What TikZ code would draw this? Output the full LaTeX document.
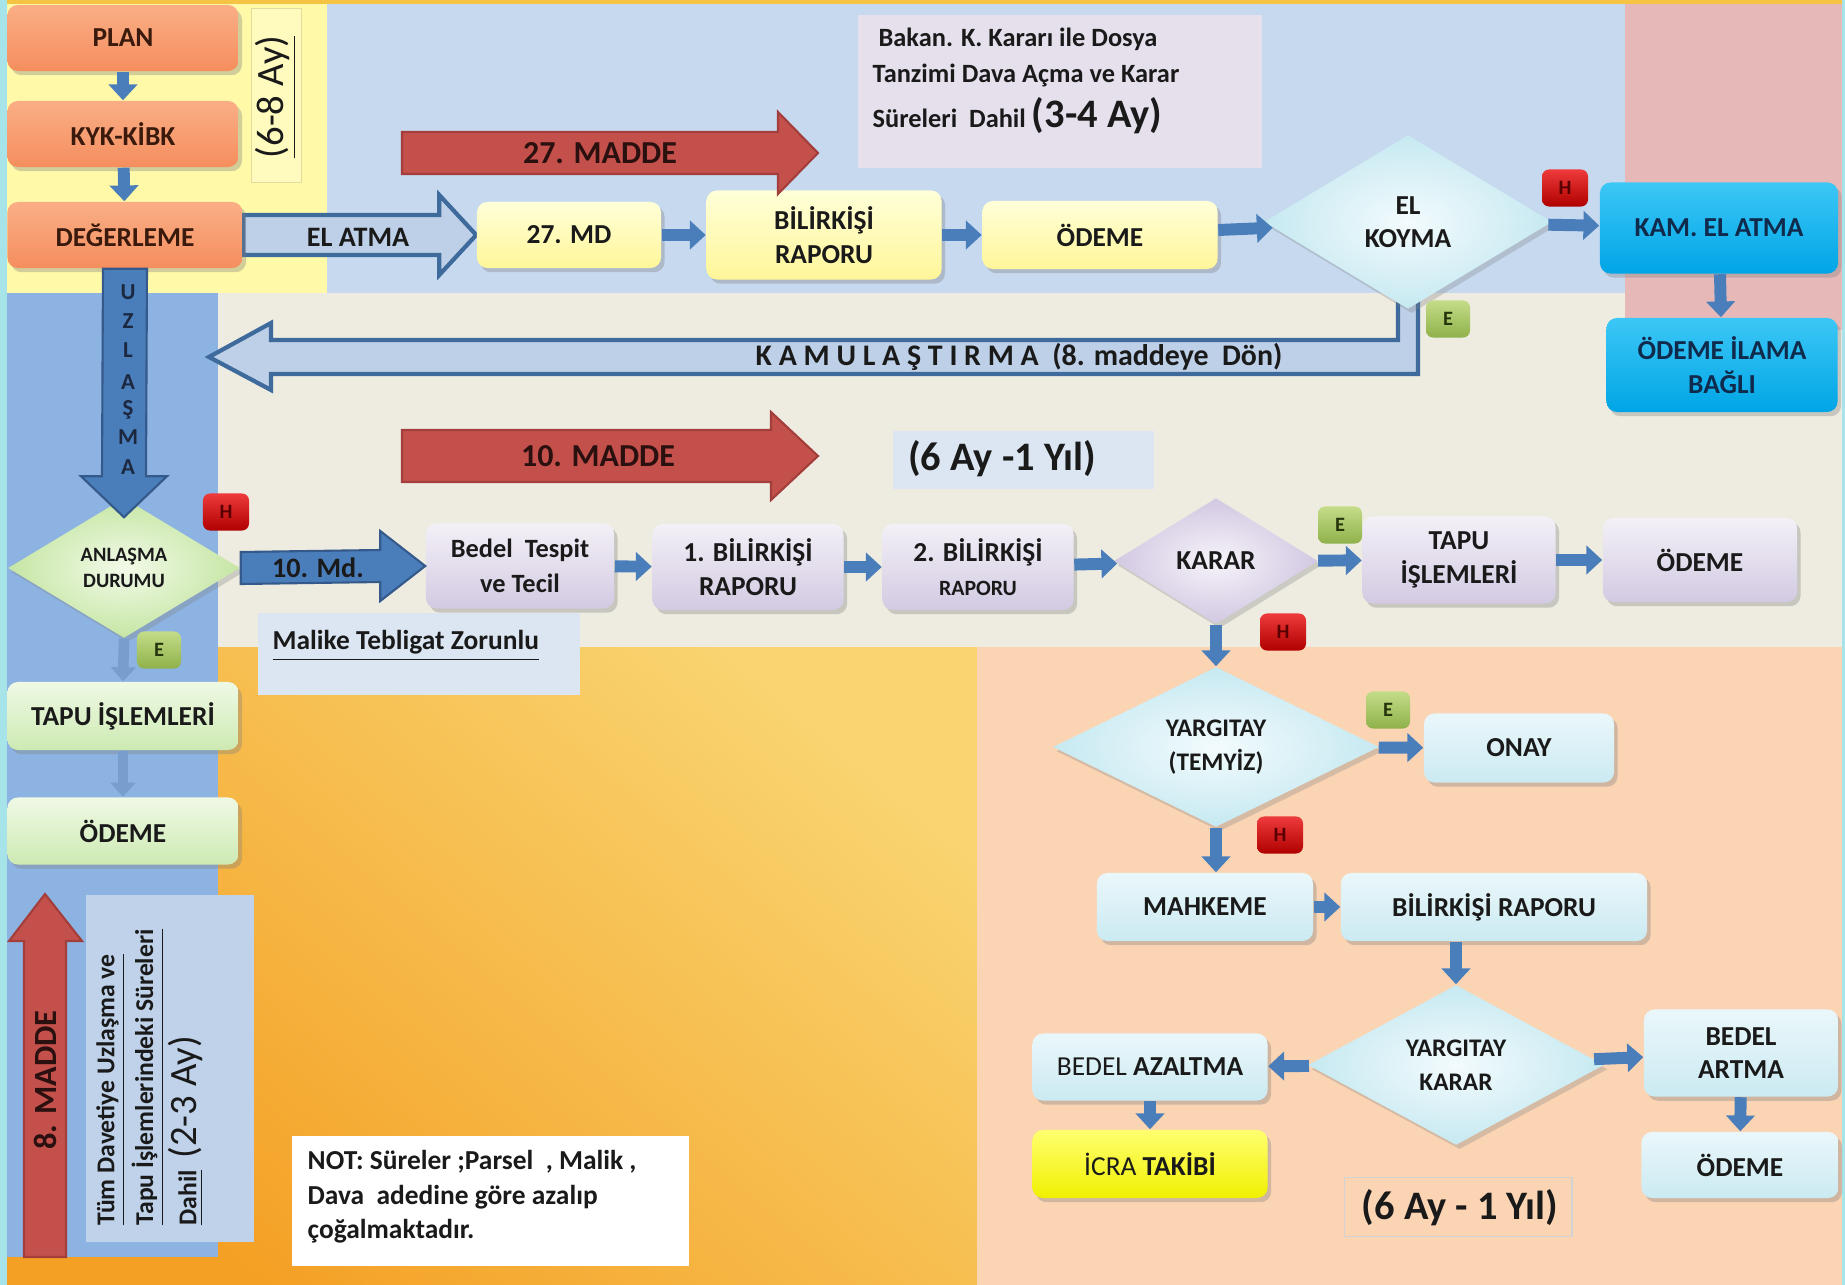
\documentclass[tikz,border=0pt]{standalone}
\usepackage{fontspec}
\setmainfont{Carlito}
\usetikzlibrary{shapes.geometric,arrows.meta,calc,shadows}
\newcommand\fsz[2]{\fontsize{#1}{#2}\selectfont}
% colours
\definecolor{txt}{HTML}{1A1A1A}
\definecolor{edgecyan}{HTML}{A6E4EA}
\definecolor{bgyellow}{HTML}{FFF9A8}
\definecolor{bglblue}{HTML}{C6D9EF}
\definecolor{bgpink}{HTML}{E6B9B8}
\definecolor{bgbeige}{HTML}{EEECE1}
\definecolor{bgblue}{HTML}{8DB3E2}
\definecolor{bgpeach}{HTML}{FBD4B4}
\definecolor{orlight}{HTML}{F9D470}
\definecolor{ordark}{HTML}{F4A024}
\definecolor{topstrip}{HTML}{F6C445}
\definecolor{obtop}{HTML}{FAAE86}
\definecolor{obbot}{HTML}{F58E5E}
\definecolor{obtxt}{HTML}{3A1A0C}
\definecolor{ybtop}{HTML}{FFFFD8}
\definecolor{ybbot}{HTML}{FFF699}
\definecolor{lbtop}{HTML}{F3F0F7}
\definecolor{lbbot}{HTML}{D3CAE2}
\definecolor{cbtop}{HTML}{EAF7FA}
\definecolor{cbbot}{HTML}{CBEAF2}
\definecolor{gbtop}{HTML}{EFF9E5}
\definecolor{gbbot}{HTML}{CDEAB2}
\definecolor{kbtop}{HTML}{3CC7F6}
\definecolor{kbbot}{HTML}{00A5E6}
\definecolor{kbtxt}{HTML}{102A4C}
\definecolor{hbtop}{HTML}{EE3A3A}
\definecolor{hbbot}{HTML}{B00000}
\definecolor{hbtxt}{HTML}{5A0000}
\definecolor{ebtop}{HTML}{C4DC88}
\definecolor{ebbot}{HTML}{8FB14A}
\definecolor{ebtxt}{HTML}{26360C}
\definecolor{flowblue}{HTML}{4A7EBB}
\definecolor{flowdark}{HTML}{34598A}
\definecolor{hollowfill}{HTML}{BDD0E8}
\definecolor{hollowdraw}{HTML}{3E6A9C}
\definecolor{redarr}{HTML}{C4504C}
\definecolor{redarrd}{HTML}{A33E3B}
\definecolor{redtxt}{HTML}{2B1010}
\definecolor{notefill}{HTML}{DCE6F2}
\definecolor{bakfill}{HTML}{E6E0EC}
\definecolor{tumfill}{HTML}{BFD2EA}
\definecolor{uznavy}{HTML}{1C2740}
\definecolor{ayfill}{HTML}{FFFBBE}
\definecolor{aydraw}{HTML}{E2DC9A}
\definecolor{cyin}{HTML}{F3FBFD}
\definecolor{cyout}{HTML}{C6E9F1}
\definecolor{grin}{HTML}{F2FAE8}
\definecolor{grout}{HTML}{C6E6A4}
\definecolor{lvin}{HTML}{F6F3F9}
\definecolor{lvout}{HTML}{D2C8E2}
\definecolor{icratop}{HTML}{FFFF70}
\definecolor{icrabot}{HTML}{F0F000}
\pgfdeclarelayer{bg}
\pgfdeclarelayer{mid}
\pgfsetlayers{bg,mid,main}

\begin{document}
\begin{tikzpicture}[x=0.01cm,y=-0.01cm,
  every node/.style={text=txt},
  procbox/.style={rectangle,rounded corners=3pt,inner sep=1pt,align=center,
    font=\bfseries\fsz{7.8}{9.5},
    drop shadow={opacity=0.35,shadow xshift=1pt,shadow yshift=-1.2pt}},
  obox/.style={procbox,top color=obtop,bottom color=obbot,text=obtxt},
  ybox/.style={procbox,top color=ybtop,bottom color=ybbot},
  lbox/.style={procbox,top color=lbtop,bottom color=lbbot},
  cbox/.style={procbox,top color=cbtop,bottom color=cbbot},
  gbox/.style={procbox,top color=gbtop,bottom color=gbbot},
  kbox/.style={procbox,top color=kbtop,bottom color=kbbot,text=kbtxt},
  decision/.style={diamond,aspect=1.8,inner sep=0pt,align=center,
    font=\bfseries\fsz{7.8}{9.5},
    drop shadow={opacity=0.3,shadow xshift=1pt,shadow yshift=-1.2pt}},
  hbadge/.style={rectangle,rounded corners=2pt,minimum width=0.46cm,minimum height=0.37cm,
    inner sep=0pt,top color=hbtop,bottom color=hbbot,text=hbtxt,font=\bfseries\fsz{5.8}{6}},
  ebadge/.style={rectangle,rounded corners=2pt,minimum width=0.44cm,minimum height=0.37cm,
    inner sep=0pt,top color=ebtop,bottom color=ebbot,text=ebtxt,font=\bfseries\fsz{5.8}{6}},
  flowarr/.style={draw=flowblue,line width=3.4pt,-{Triangle[width=8pt,length=4.5pt]}},
  flowlight/.style={draw=flowblue!75,line width=3pt,-{Triangle[width=7pt,length=4pt]}},
  redarrow/.style={fill=redarr,draw=redarrd,line width=0.6pt},
  blockarrow/.style={fill=flowblue,draw=flowdark,line width=0.6pt},
  hollowarrow/.style={fill=hollowfill,draw=hollowdraw,line width=1.2pt},
  notebox/.style={rectangle,inner sep=0pt,anchor=north west}
]
% background bands
\begin{pgfonlayer}{bg}
\fill[edgecyan] (0,0) rectangle (1845,1285);
\shade[top color=orlight,bottom color=ordark,shading angle=-40] (7,647) rectangle (977,1285);
\fill[bgyellow] (7,0) rectangle (327,293);
\fill[bglblue] (327,0) rectangle (1625,293);
\fill[bgbeige] (218,293) rectangle (1842,647);
\fill[bgpink] (1625,0) rectangle (1842,330);
\fill[bgblue] (7,293) rectangle (218,1257);
\fill[bgpeach] (977,647) rectangle (1842,1285);
\fill[topstrip] (7,0) rectangle (1842,4);
\end{pgfonlayer}

% notes
\node[notebox,fill=ayfill,draw=aydraw,line width=0.3pt,minimum width=0.5cm,minimum height=1.74cm] (box68) at (251,8) {};
\node[rotate=90,font=\fsz{11}{13}] (sure68) at (276,97) {\underline{(6-8 Ay)}};
\node[notebox,fill=bakfill,minimum width=4.04cm,minimum height=1.53cm] (bakbox) at (857,14) {};
\node[anchor=north west,inner sep=0pt,align=left,font=\bfseries\fsz{7.5}{10.3}] (baktxt) at (872,27)
  {~Bakan. K. Kararı ile Dosya\\Tanzimi Dava Açma ve Karar\\[2.5pt]Süreleri~ Dahil {\fsz{11.5}{12}(3-4 Ay)}};
\node[notebox,fill=notefill,minimum width=3.22cm,minimum height=0.82cm] (malbox) at (257,612) {};
\node[anchor=north west,inner sep=0pt,font=\bfseries\fsz{7.8}{9}] (maltxt) at (272,630) {\underline{Malike Tebligat Zorunlu}};
\node[notebox,fill=notefill,minimum width=2.61cm,minimum height=0.58cm] (box61) at (892,430) {};
\node[font=\bfseries\fsz{11.5}{13}] (sure61) at (1002,459) {(6 Ay -1 Yıl)};
\node[notebox,draw=gray!35,line width=0.4pt,minimum width=2.27cm,minimum height=0.59cm] (box62) at (1344,1177) {};
\node[font=\bfseries\fsz{11.5}{13}] (sure62) at (1460,1208) {(6 Ay - 1 Yıl)};
\node[notebox,fill=tumfill,minimum width=1.68cm,minimum height=3.47cm] (tumbox) at (85,894) {};
\node[rotate=90,anchor=west,align=left,inner sep=0pt,font=\bfseries\fsz{7.3}{11}] (tumtxt) at (150,1226)
  {\underline{Tüm Davetiye Uzlaşma ve}\\\underline{Tapu İşlemlerindeki Süreleri}\\\underline{Dahil}~ {\mdseries\fsz{11}{11}(2-3 Ay)}};
\node[notebox,fill=white,minimum width=3.97cm,minimum height=1.30cm] (notbox) at (291,1135) {};
\node[anchor=north west,inner sep=0pt,align=left,font=\bfseries\fsz{7.8}{9.8}] (nottxt) at (307,1150)
  {NOT: Süreler ;Parsel~~, Malik ,\\Dava~~adedine göre azalıp\\çoğalmaktadır.};

% process boxes
\node[obox,minimum width=2.31cm,minimum height=0.66cm] (plan) at (123,38) {PLAN};
\node[obox,minimum width=2.31cm,minimum height=0.66cm] (kyk) at (123,134) {KYK-KİBK};
\node[obox,minimum width=2.35cm,minimum height=0.66cm] (deg) at (125,235) {DEĞERLEME};
\node[ybox,minimum width=1.84cm,minimum height=0.66cm] (md27) at (569,235) {27. MD};
\node[ybox,minimum width=2.35cm,minimum height=0.89cm] (bil1) at (824,235) {BİLİRKİŞİ\\RAPORU};
\node[ybox,minimum width=2.35cm,minimum height=0.68cm] (ode1) at (1100,235) {ÖDEME};
\node[decision,inner color=cyin,outer color=cyout,minimum width=2.88cm,minimum height=1.74cm] (elk) at (1408,222) {EL\\KOYMA};
\node[kbox,minimum width=2.38cm,minimum height=0.91cm] (kam) at (1719,228) {KAM. EL ATMA};
\node[kbox,minimum width=2.31cm,minimum height=0.94cm] (odil) at (1722,365) {ÖDEME İLAMA\\BAĞLI};

\node[decision,inner color=grin,outer color=grout,minimum width=2.32cm,minimum height=1.40cm,font=\bfseries\fsz{5.8}{7.5}] (anl) at (124,568) {ANLAŞMA\\DURUMU};
\node[gbox,minimum width=2.31cm,minimum height=0.68cm] (tapu2) at (123,716) {TAPU İŞLEMLERİ};
\node[gbox,minimum width=2.31cm,minimum height=0.67cm] (ode2) at (123,831) {ÖDEME};

\node[lbox,minimum width=1.88cm,minimum height=0.85cm,font=\bfseries\fsz{7.5}{10}] (bedel) at (520,566) {Bedel~ Tespit\\ve Tecil};
\node[lbox,minimum width=1.91cm,minimum height=0.86cm] (bil2) at (748,567) {1. BİLİRKİŞİ\\RAPORU};
\node[lbox,minimum width=1.91cm,minimum height=0.86cm] (bil3) at (978,567) {2. BİLİRKİŞİ\\{\fsz{6.2}{8}RAPORU}};
\node[decision,inner color=lvin,outer color=lvout,minimum width=2.04cm,minimum height=1.26cm] (karar) at (1216,561) {KARAR};
\node[lbox,minimum width=1.93cm,minimum height=0.87cm] (tapu3) at (1459,560) {TAPU\\İŞLEMLERİ};
\node[lbox,minimum width=1.94cm,minimum height=0.84cm] (ode3) at (1700,560) {ÖDEME};

\node[decision,inner color=cyin,outer color=cyout,minimum width=3.26cm,minimum height=1.60cm,font=\bfseries\fsz{7.2}{9.5}] (yarg) at (1216,747) {YARGITAY\\(TEMYİZ)};
\node[cbox,minimum width=1.90cm,minimum height=0.69cm] (onay) at (1519,748) {ONAY};
\node[cbox,minimum width=2.16cm,minimum height=0.68cm] (mahk) at (1205,907) {MAHKEME};
\node[cbox,minimum width=3.06cm,minimum height=0.68cm] (bil4) at (1494,907) {BİLİRKİŞİ RAPORU};
\node[decision,inner color=cyin,outer color=cyout,minimum width=2.96cm,minimum height=1.60cm,font=\bfseries\fsz{7.2}{9.5}] (yk) at (1456,1065) {YARGITAY\\KARAR};
\node[cbox,minimum width=2.35cm,minimum height=0.67cm] (azal) at (1150,1067) {{\mdseries BEDEL} AZALTMA};
\node[procbox,top color=icratop,bottom color=icrabot,minimum width=2.35cm,minimum height=0.68cm] (icra) at (1150,1164) {{\mdseries İCRA} TAKİBİ};
\node[cbox,minimum width=1.94cm,minimum height=0.87cm] (artma) at (1741,1053) {BEDEL\\ARTMA};
\node[cbox,minimum width=1.97cm,minimum height=0.66cm] (ode4) at (1740,1165) {ÖDEME};

% big arrows
\coordinate (kamtip) at (209,357);
\begin{pgfonlayer}{mid}
\draw[hollowarrow] ($(deg.east)+(0,-20)$) -- ($(md27.west)+(-37,-20)$) -- ++(0,-20) -- (md27.west)
  -- ++(-37,40) -- ++(0,-20) -- ($(deg.east)+(0,20)$) -- cycle;
\draw[hollowarrow] ($(elk.south)+(-10,-12)$) -- ($(elk.south)+(10,-12)$) |- ($(kamtip)+(62,17)$)
  -- ++(0,16) -- (kamtip) -- ++(62,-34) -- ++(0,17) -| ($(elk.south)+(-10,-12)$) -- cycle;
\end{pgfonlayer}
\node[font=\bfseries\fsz{8}{9}] (elatma) at (358,237) {EL ATMA};
\node[font=\bfseries\fsz{8.5}{10}] (kamtxt) at (1019,357) {K A M U L A Ş T I R M A~~(8. maddeye~ Dön)};

\draw[blockarrow] ($(deg.south)+(-22,0)$) -- ($(anl.north)+(-22,-21)$) -- ++(-21,0) -- ($(anl.north)+(0,20)$)
  -- ($(anl.north)+(43,-21)$) -- ++(-21,0) -- ($(deg.south)+(22,0)$) -- cycle;
\foreach \ch/\yy [count=\i] in {U/292,Z/321,L/350,A/382,Ş/410,M/437,A/467}
  \node[font=\bfseries\fsz{6.5}{7},text=uznavy] (uz\i) at (128,\yy) {\ch};
\draw[blockarrow] ($(anl.east)+(0,-16)$) -- ($(bedel.west)+(-45,-16)$) -- ++(0,-19) -- (bedel.west)
  -- ++(-45,35) -- ++(0,-19) -- ($(anl.east)+(0,16)$) -- cycle;
\node[font=\bfseries\fsz{8}{9}] (md10) at (318,568) {10. Md.};

\draw[redarrow] (402,132) -- (778,132) -- (778,112) -- (818,153) -- (778,194) -- (778,174) -- (402,174) -- cycle;
\node[font=\bfseries\fsz{9.1}{10},text=redtxt] (madde27) at (600,153) {27. MADDE};
\draw[redarrow] (402,430) -- (771,430) -- (771,412) -- (818,456) -- (771,500) -- (771,482) -- (402,482) -- cycle;
\node[font=\bfseries\fsz{9.1}{10},text=redtxt] (madde10) at (598,456) {10. MADDE};
\draw[redarrow] (24,1257) -- (24,941) -- (9,941) -- (45,894) -- (82,941) -- (66,941) -- (66,1257) -- cycle;
\node[rotate=90,font=\bfseries\fsz{9.2}{10},text=redtxt] (madde8) at (45,1080) {8. MADDE};

% small arrows
\draw[flowarr] (plan) -- (kyk);
\draw[flowarr] (kyk) -- (deg);
\draw[flowarr] (md27) -- (bil1);
\draw[flowarr] (bil1) -- (ode1);
\draw[flowarr] (ode1) -- (elk);
\draw[flowarr] (elk) -- (kam);
\draw[flowarr] (kam) -- (odil);
\draw[flowlight] (anl.south) -- (tapu2.north);
\draw[flowlight] (tapu2) -- (ode2);
\draw[flowarr] (bedel) -- (bil2);
\draw[flowarr] (bil2) -- (bil3);
\draw[flowarr] (bil3) -- (karar);
\draw[flowarr] (karar) -- (tapu3);
\draw[flowarr] (tapu3) -- (ode3);
\draw[flowarr] (karar) -- (yarg);
\draw[flowarr] (yarg) -- (onay);
\draw[flowarr] (yarg.south) -- (yarg.south |- mahk.north);
\draw[flowarr] (mahk) -- (bil4);
\draw[flowarr] (yk.north |- bil4.south) -- (yk.north);
\draw[flowarr] (yk) -- (azal);
\draw[flowarr] (yk) -- (artma);
\draw[flowarr] (azal) -- (icra);
\draw[flowarr] (artma) -- (ode4);

% yes / no badges
\node[hbadge] (h1) at (1565,188) {H};
\node[ebadge] (e1) at (1448,319) {E};
\node[hbadge] (h2) at (226,512) {H};
\node[ebadge] (e2) at (159,650) {E};
\node[ebadge] (e3) at (1340,525) {E};
\node[hbadge] (h3) at (1283,632) {H};
\node[ebadge] (e4) at (1388,710) {E};
\node[hbadge] (h4) at (1280,835) {H};
\end{tikzpicture}
\end{document}
